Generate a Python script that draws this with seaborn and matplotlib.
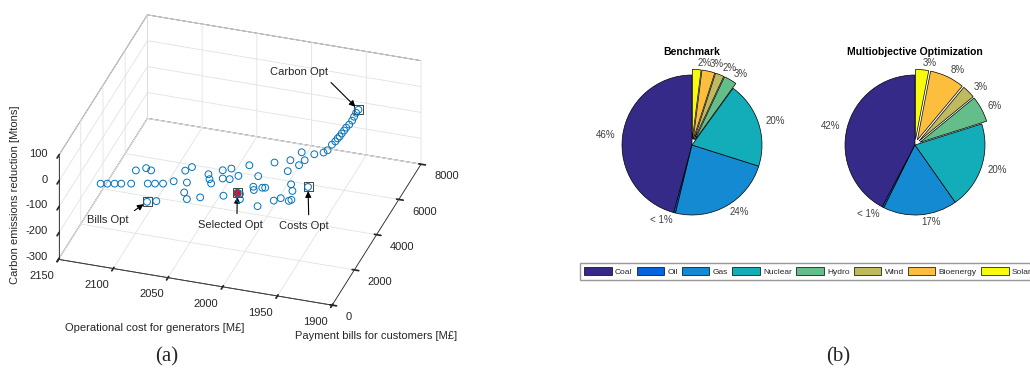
# Pareto front (3D) and generation mix pies
import matplotlib
matplotlib.use("Agg")
import matplotlib.pyplot as plt
import seaborn as sns
from matplotlib.patches import Patch
from mpl_toolkits.mplot3d import proj3d

sns.set_theme(style="white")
plt.rcParams['font.family'] = ['Liberation Sans', 'DejaVu Sans']
plt.rcParams['grid.color'] = '#e2e2e2'
plt.rcParams['grid.linewidth'] = 0.6
plt.rcParams['axes.unicode_minus'] = False

## Data
# Pareto solutions: operational cost [M£], payment bills [M£], carbon reduction [Mtons]
op_cost = [2120.9, 2115.4, 2109.4, 2103.9, 2095.7, 2082.0, 2076.0, 2069.4, 2061.8, 2050.2,
           2098.7, 2091.4, 2086.1, 2057.8, 2054.1, 2036.7, 2033.3, 2029.7, 2047.3, 2041.6,
           2031.5, 2027.0, 2020.7, 2022.7, 2016.6, 2011.1, 2007.6, 1994.6, 2013.1, 2003.2,
           1997.7, 2000.4, 1993.1, 1991.0, 1985.2, 1982.8, 1979.5, 1988.2, 1972.8, 1976.3,
           1966.6, 1964.5, 1971.1, 1963.2, 1958.6, 1954.8, 1956.5, 1964.5, 1969.0, 1947.8,
           2073.1, 2065.8,
           1958.3, 1950.2, 1946.7, 1944.7, 1942.3, 1940.5, 1939.2, 1937.7, 1935.9, 1934.4,
           1932.1, 1930.4, 1929.5, 1928.5, 1926.8]
bills = [923, 981, 1045, 1103, 1189, 1334, 1397, 1466, 1676, 1725,
         1907, 2113, 2039, 2321, 2562, 2335, 2089, 1884, 1192, 874,
         1076, 2662, 2824, 2240, 2265, 2508, 3148, 2666, 1360, 1634,
         1320, 1590, 2078, 1915, 2105, 2131, 1117, 3504, 3176, 3759,
         3580, 3883, 4264, 2529, 2199, 1732, 1658, 1726, 1543, 2538,
         391, 507,
         4139, 4172, 4190, 4384, 4447, 4487, 4539, 4575, 4616, 4652,
         4697, 4792, 4879, 4966, 5005]
carbon = [-50] * 52 + [-40, -30, -20, -10, 0, 10, 15, 25, 35, 45, 55, 65, 75, 85, 95]

# highlighted solutions
opt_names = ["Bills Opt", "Selected Opt", "Costs Opt", "Carbon Opt"]
opt_cost = [2073.1, 2003.2, 1947.8, 1926.8]
opt_bills = [391, 1634, 2538, 5005]
opt_carbon = [-50, -50, -50, 95]

# generation mix [%]
sources = ["Coal", "Oil", "Gas", "Nuclear", "Hydro", "Wind", "Bioenergy", "Solar"]
benchmark = [46, 0.4, 24, 20, 3, 2, 3, 2]
multiobj = [42, 0.4, 17, 20, 6, 3, 8, 3]
renewable = [0, 0, 0, 0, 1, 1, 1, 1]
mix_colors = ["#352A87", "#0662DE", "#148AD3", "#12ADB8", "#63BE8A", "#C0BA5E", "#FDBE3D", "#F9FB0E"]

fig = plt.figure(figsize=(10.3, 3.68), dpi=100)

'''
(a) 3D Pareto front
'''
ax = fig.add_axes([-0.053, -0.051, 0.56, 1.2], projection='3d')
ax.set_proj_type('ortho')
ax.view_init(elev=31, azim=-72)
ax.set_box_aspect((1, 1, 0.42), zoom=0.933)
ax.set_xlim(2150, 1900)
ax.set_ylim(0, 8000)
ax.set_zlim(-300, 100)
ax.set_xticks([1900, 1950, 2000, 2050, 2100, 2150])
ax.set_yticks([0, 2000, 4000, 6000, 8000])
ax.set_zticks([-300, -200, -100, 0, 100])
ax.zaxis.set_ticks_position('lower')
ax.tick_params(labelsize=8, colors='#262626', pad=0)
ax.zaxis.set_tick_params(pad=-3)
for axis in (ax.xaxis, ax.yaxis, ax.zaxis):
    axis.set_pane_color((1, 1, 1, 1))
    axis.pane.set_edgecolor('#262626')
    axis.pane.set_linewidth(0.6)
    axis.line.set_color('#262626')
    axis.line.set_linewidth(0.6)

# matlab-like tick label alignment
for lab in ax.get_xticklabels():
    lab.set_ha('right')
for lab in ax.get_yticklabels():
    lab.set_ha('left')
for lab in ax.get_zticklabels():
    lab.set_ha('right')
    lab.set_va('bottom')

ax.scatter(op_cost, bills, carbon, marker='o', facecolors='none', edgecolors='#0072BD',
           s=24, linewidths=0.7, depthshade=False)
ax.scatter(opt_cost[1], opt_bills[1], opt_carbon[1], marker='o', color='red', s=24, depthshade=False)
ax.scatter(opt_cost, opt_bills, opt_carbon, marker='s', facecolors='none', edgecolors='#444444',
           s=42, linewidths=0.7, depthshade=False)

# label offsets (points) of each highlighted solution
label_dx = [-28, -5, -3, -43]
label_dy = [-13, -23, -28, 27]
arrow_rel = [(0.95, 0.9), (0.6, 1.0), (0.6, 1.0), (0.95, 0.1)]
proj = ax.get_proj()
for name, xc, yb, zc, dx, dy, rp in zip(opt_names, opt_cost, opt_bills, opt_carbon,
                                       label_dx, label_dy, arrow_rel):
    px, py, _ = proj3d.proj_transform(xc, yb, zc, proj)
    ax.annotate(name, xy=(px, py), xytext=(dx, dy), textcoords='offset points',
                ha='center', va='center', fontsize=8, color='#262626',
                arrowprops=dict(arrowstyle='-|>', color='black', lw=0.8,
                                mutation_scale=9, shrinkB=3, relpos=rp))

fig.text(15 / 1030, 1 - 195 / 368, "Carbon emissions reduction [Mtons]", rotation=90,
         ha='center', va='center', fontsize=8, color='#262626')
fig.text(155 / 1030, 1 - 328 / 368, "Operational cost for generators [M£]",
         ha='center', va='center', fontsize=8, color='#262626')
fig.text(376 / 1030, 1 - 336 / 368, "Payment bills for customers [M£]",
         ha='center', va='center', fontsize=8, color='#262626')

'''
(b) generation mix pies
'''
def plot_pie(left, values, title):
    pax = fig.add_axes([left, 0.3682, 0.1699, 0.4755])
    labels = ["< 1%" if v < 1 else f"{v:.0f}%" for v in values]
    pax.pie(values, labels=labels, colors=mix_colors, startangle=90, counterclock=True,
            explode=[0.08 * r for r in renewable], labeldistance=1.1,
            wedgeprops=dict(edgecolor='black', linewidth=0.5),
            textprops=dict(fontsize=7, color='#404040'))
    pax.text(0.5, 1.03, title, transform=pax.transAxes, ha='center', va='center',
             fontsize=7.5, fontweight='bold', color='black')

plot_pie(0.5869, benchmark, "Benchmark")
plot_pie(0.8034, multiobj, "Multiobjective Optimization")

handles = [Patch(facecolor=c, edgecolor='black', linewidth=0.5) for c in mix_colors]
fig.legend(handles, sources, loc='upper left', bbox_to_anchor=(580 / 1030, 1 - 263 / 368),
           ncol=8, fontsize=6, frameon=True, fancybox=False, edgecolor='#7f7f7f',
           handlelength=3.3, handleheight=1.0, handletextpad=0.4, columnspacing=0.5,
           borderpad=0.5, borderaxespad=0)

# captions
fig.text(167 / 1030, 1 - 357 / 368, "(a)", ha='center', va='center', fontsize=15,
         family=['Liberation Serif', 'DejaVu Serif'])
fig.text(838 / 1030, 1 - 357 / 368, "(b)", ha='center', va='center', fontsize=15,
         family=['Liberation Serif', 'DejaVu Serif'])

fig.savefig("out.png", dpi=100)
